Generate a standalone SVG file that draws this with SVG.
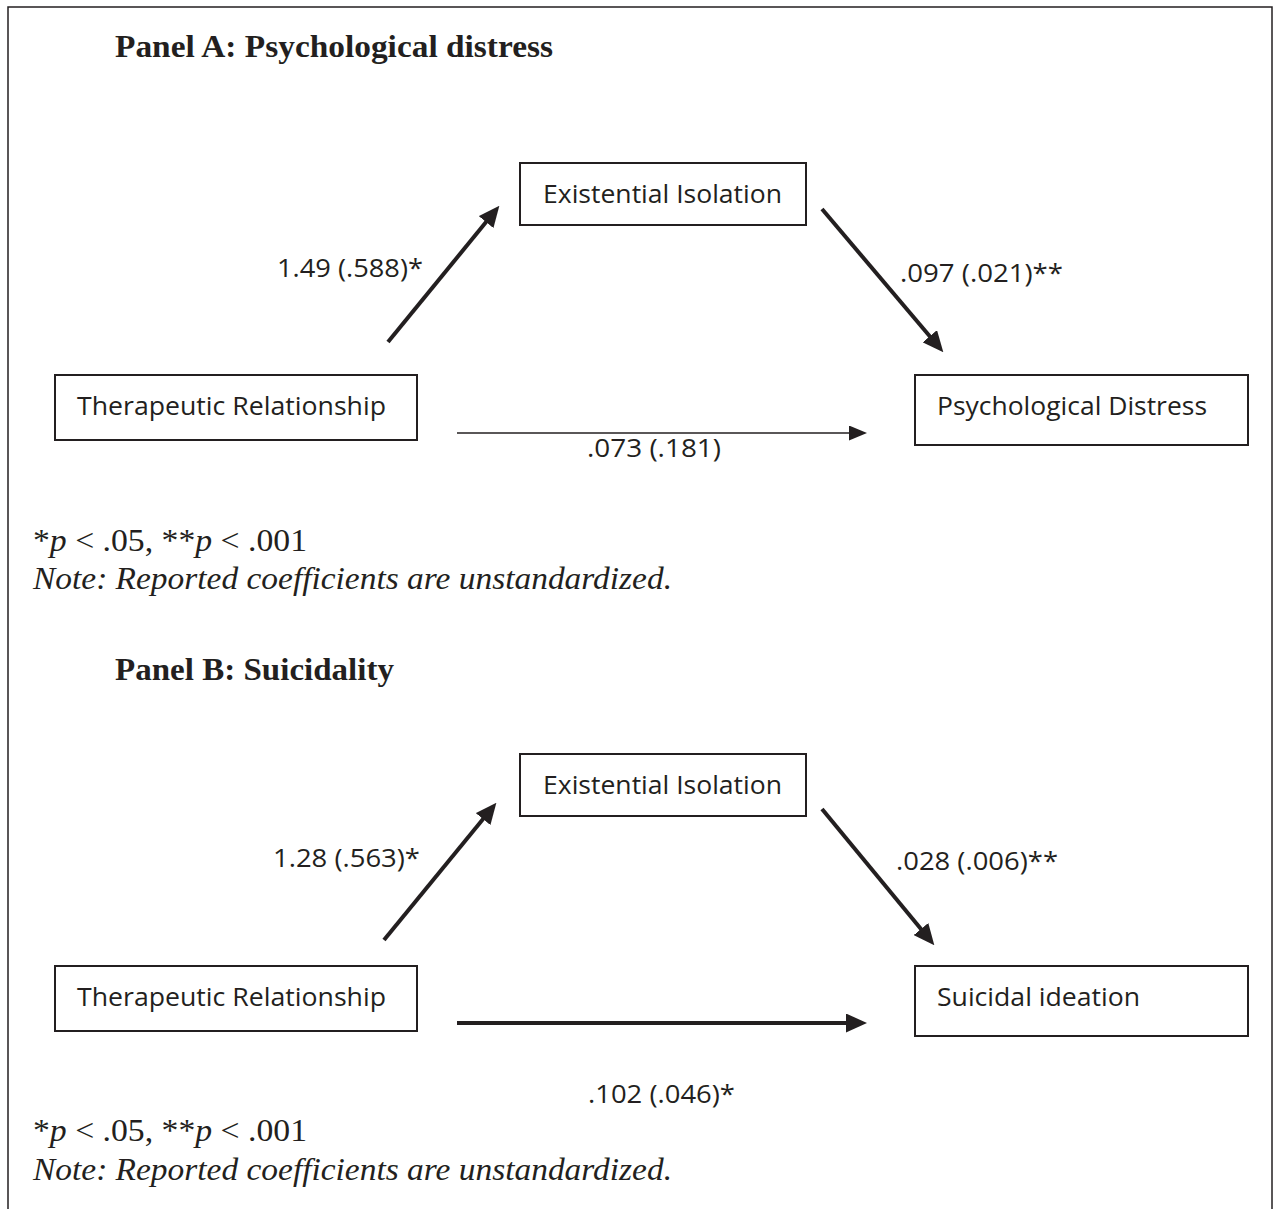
<svg xmlns="http://www.w3.org/2000/svg" width="1273" height="1209" viewBox="0 0 1273 1209">
<style>
.box{fill:#fff;stroke:#231f20;stroke-width:2}
.lbl{font-family:"Open Sans","Noto Sans",sans-serif;font-size:26px;fill:#231f20}
.head{font-family:"Liberation Serif","Times New Roman",serif;font-size:31px;font-weight:bold;fill:#231f20}
.sig{font-family:"Liberation Serif","Times New Roman",serif;font-size:32px;fill:#231f20}
.note{font-family:"Liberation Serif","Times New Roman",serif;font-size:32px;font-style:italic;fill:#231f20}
.thick{stroke:#231f20;stroke-width:4;fill:none;marker-end:url(#ah)}
.thin{stroke:#231f20;stroke-width:1.5;fill:none;marker-end:url(#ahs)}
</style>
<defs>
<marker id="ah" markerUnits="userSpaceOnUse" markerWidth="21" markerHeight="19" viewBox="0 0 21 19" refX="1" refY="9.5" orient="auto"><path d="M0,0 L21,9.5 L0,19 z" fill="#231f20"/></marker>
<marker id="ahs" markerUnits="userSpaceOnUse" markerWidth="18" markerHeight="15" viewBox="0 0 18 15" refX="1" refY="7.5" orient="auto"><path d="M0,0 L18,7.5 L0,15 z" fill="#231f20"/></marker>
</defs>
<rect x="0" y="0" width="1273" height="1209" fill="#fff"/>
<rect x="8" y="7" width="1264" height="1220" fill="none" stroke="#231f20" stroke-width="1.5"/>

<text class="head" x="115" y="57" textLength="438" lengthAdjust="spacingAndGlyphs">Panel A: Psychological distress</text>

<g id="connectors">
<line class="thick" x1="388" y1="342" x2="486.7" y2="221.3"/>
<line class="thick" x1="822" y1="209" x2="930.4" y2="337"/>
<line class="thin" x1="457" y1="433" x2="850" y2="433"/>
<line class="thick" x1="384" y1="940" x2="483.7" y2="818.3"/>
<line class="thick" x1="822" y1="809" x2="921.6" y2="929.8"/>
<line class="thick" x1="457" y1="1023" x2="847" y2="1023"/>
<text class="lbl" x="277" y="277" textLength="146" lengthAdjust="spacingAndGlyphs">1.49 (.588)*</text>
<text class="lbl" x="900" y="282" textLength="163" lengthAdjust="spacingAndGlyphs">.097 (.021)**</text>
<text class="lbl" x="587" y="457" textLength="134" lengthAdjust="spacingAndGlyphs">.073 (.181)</text>
<text class="lbl" x="273" y="867" textLength="147" lengthAdjust="spacingAndGlyphs">1.28 (.563)*</text>
<text class="lbl" x="896" y="870" textLength="162" lengthAdjust="spacingAndGlyphs">.028 (.006)**</text>
<text class="lbl" x="588" y="1103" textLength="147" lengthAdjust="spacingAndGlyphs">.102 (.046)*</text>
</g>

<g id="a-isolation">
<rect class="box" x="520" y="163" width="286" height="62"/>
<text class="lbl" x="543" y="203" textLength="239" lengthAdjust="spacingAndGlyphs">Existential Isolation</text>
</g>
<g id="a-therapeutic">
<rect class="box" x="55" y="375" width="362" height="65"/>
<text class="lbl" x="77" y="415" textLength="309" lengthAdjust="spacingAndGlyphs">Therapeutic Relationship</text>
</g>
<g id="a-distress">
<rect class="box" x="915" y="375" width="333" height="70"/>
<text class="lbl" x="937" y="415" textLength="270" lengthAdjust="spacingAndGlyphs">Psychological Distress</text>
</g>

<text class="sig" x="33" y="551" textLength="274" lengthAdjust="spacingAndGlyphs">*<tspan font-style="italic">p</tspan> &lt; .05, **<tspan font-style="italic">p</tspan> &lt; .001</text>
<text class="note" x="33" y="589" textLength="639" lengthAdjust="spacingAndGlyphs">Note: Reported coefficients are unstandardized.</text>

<text class="head" x="115" y="680" textLength="279" lengthAdjust="spacingAndGlyphs">Panel B: Suicidality</text>

<g id="b-isolation">
<rect class="box" x="520" y="754" width="286" height="62"/>
<text class="lbl" x="543" y="794" textLength="239" lengthAdjust="spacingAndGlyphs">Existential Isolation</text>
</g>
<g id="b-therapeutic">
<rect class="box" x="55" y="966" width="362" height="65"/>
<text class="lbl" x="77" y="1006" textLength="309" lengthAdjust="spacingAndGlyphs">Therapeutic Relationship</text>
</g>
<g id="b-suicidal">
<rect class="box" x="915" y="966" width="333" height="70"/>
<text class="lbl" x="937" y="1006" textLength="203" lengthAdjust="spacingAndGlyphs">Suicidal ideation</text>
</g>

<text class="sig" x="33" y="1141" textLength="274" lengthAdjust="spacingAndGlyphs">*<tspan font-style="italic">p</tspan> &lt; .05, **<tspan font-style="italic">p</tspan> &lt; .001</text>
<text class="note" x="33" y="1180" textLength="639" lengthAdjust="spacingAndGlyphs">Note: Reported coefficients are unstandardized.</text>
</svg>
